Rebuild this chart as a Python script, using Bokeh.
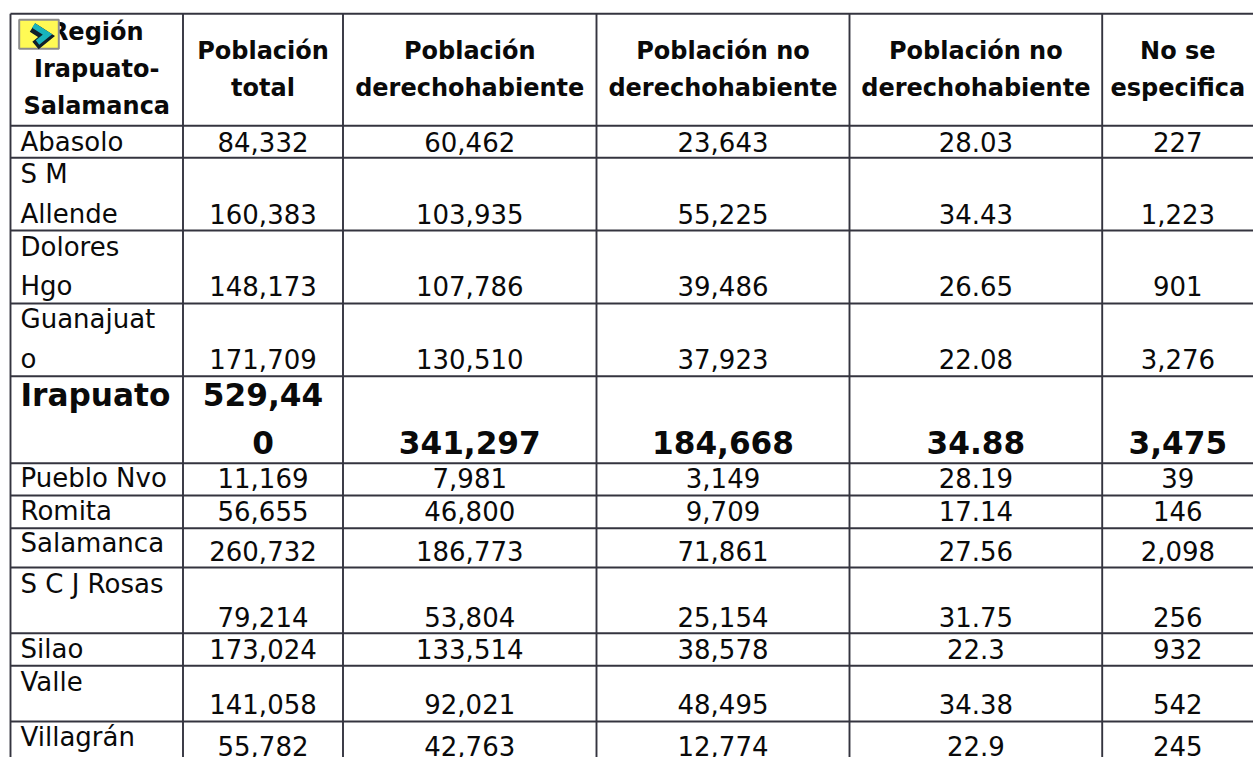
import numpy as np
from bokeh.plotting import figure
from bokeh.embed import file_html
from bokeh.resources import INLINE
from bokeh.core.properties import value

# ---- table content ----
header_first = ["Región", "Irapuato-", "Salamanca"]
headers = [
    ["Población", "total"],
    ["Población", "derechohabiente"],
    ["Población no", "derechohabiente"],
    ["Población no", "derechohabiente"],
    ["No se", "especifica"],
]
region = [
    ["Abasolo"], ["S M", "Allende"], ["Dolores", "Hgo"], ["Guanajuat", "o"],
    ["Irapuato"], ["Pueblo Nvo"], ["Romita"], ["Salamanca"],
    ["S C J Rosas"], ["Silao"], ["Valle"], ["Villagrán"],
]
poblacion_total = ["84,332", "160,383", "148,173", "171,709", ["529,44", "0"], "11,169",
                   "56,655", "260,732", "79,214", "173,024", "141,058", "55,782"]
derechohabiente = ["60,462", "103,935", "107,786", "130,510", "341,297", "7,981",
                   "46,800", "186,773", "53,804", "133,514", "92,021", "42,763"]
no_derechohabiente = ["23,643", "55,225", "39,486", "37,923", "184,668", "3,149",
                      "9,709", "71,861", "25,154", "38,578", "48,495", "12,774"]
no_derecho_pct = ["28.03", "34.43", "26.65", "22.08", "34.88", "28.19",
                  "17.14", "27.56", "31.75", "22.3", "34.38", "22.9"]
no_especifica = ["227", "1,223", "901", "3,276", "3,475", "39",
                 "146", "2,098", "256", "932", "542", "245"]

# ---- layout (page pixels) ----
col_edges = [10, 182.5, 342.5, 596, 849, 1101.7]
row_edges = [13.3, 125.3, 157.3, 230, 303, 375.7, 462.7, 495, 527.7, 567, 632.7, 665.3, 721]
right_end, page_bottom = 1253, 757
label_x = 20
label_base = [[150.7], [182.7, 222.7], [255.7, 295.3], [328, 368.3], [406], [487], [520],
              [552.3], [593], [658.3], [690.7], [746]]
value_base = [150.7, 222.7, 295.3, 368.3, 454, 487, 520, 560, 625.7, 658.3, 713.3, 755]
FS, FS_H, FS_B = 26.0, 24.0, 31.2
K = 0.37
LINE = "#34343f"
FONT = value("DejaVu Sans")

p = figure(width=1253, height=757, x_range=(0, 1253), y_range=(757, 0),
           output_backend="svg", toolbar_location=None, min_border=0,
           x_axis_type=None, y_axis_type=None, outline_line_color=None)
p.grid.visible = False

# grid lines
p.segment(x0=col_edges, y0=[row_edges[0]] * len(col_edges), x1=col_edges, y1=[page_bottom] * len(col_edges),
          line_color=LINE, line_width=1.9)
p.segment(x0=[col_edges[0]] * len(row_edges), y0=row_edges, x1=[right_end] * len(row_edges), y1=row_edges,
          line_color=LINE, line_width=1.9)

def put(xs, ys, texts, size, bold=False, align="center"):
    p.text(x=xs, y=ys, text=texts, text_font=FONT, text_font_size=f"{size}px",
           text_font_style="bold" if bold else "normal", text_color="#0a0a0a",
           text_align=align, text_baseline="alphabetic", y_offset=-K * size)

centers = [(a + b) / 2 for a, b in zip(col_edges[:-1], col_edges[1:])] + [(col_edges[-1] + right_end) / 2]

# header
put([centers[0]] * 3, [40.7, 77.3, 114.3], header_first, FS_H, bold=True)
for c, lines in zip(centers[1:], headers):
    put([c] * 2, [59.3, 96.0], lines, FS_H, bold=True)

# body
bold_row = 4
for i, lines in enumerate(region):
    put([label_x] * len(lines), label_base[i], lines, FS_B if i == bold_row else FS,
        bold=i == bold_row, align="left")

columns = [poblacion_total, derechohabiente, no_derechohabiente, no_derecho_pct, no_especifica]
for c, col in zip(centers[1:], columns):
    for i, v in enumerate(col):
        size = FS_B if i == bold_row else FS
        if isinstance(v, list):
            put([c, c], [406, value_base[i]], v, size, bold=True)
        else:
            put([c], [value_base[i]], [v], size, bold=i == bold_row)

# icon covering the start of the first header word
h, w = 29, 39
img = np.zeros((h, w), dtype=np.uint32)
view = img.view(dtype=np.uint8).reshape((h, w, 4))
yy, xx = np.mgrid[0:h, 0:w]
chk = (xx + yy) % 2 == 0
view[..., 0] = 255
view[..., 1] = 250
view[..., 2] = np.where(chk, 40, 130)
view[..., 3] = 255
p.image_rgba(image=[img], x=19, y=19, dw=39, dh=29)
p.quad(left=[18.7], right=[58.3], top=[19.3], bottom=[48.3], fill_color=None, line_color="#8c8c8c", line_width=2)
p.line([32, 46, 35], [27, 36, 45], line_color="#10202a", line_width=10, line_join="miter")
p.line([33, 47, 37], [25, 34, 42], line_color="#18b4bc", line_width=5.5, line_join="miter")

open("out.html", "w").write(file_html(p, INLINE))
